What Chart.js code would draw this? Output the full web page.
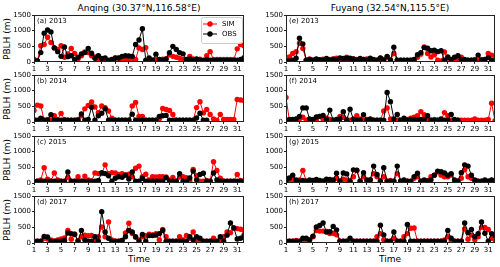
<!DOCTYPE html>
<html><head><meta charset="utf-8">
<script src="https://cdn.jsdelivr.net/npm/chart.js@4"></script>
<style>
body{margin:0;width:500px;height:267px;background:#fff;position:relative;overflow:hidden;font-family:"DejaVu Sans",sans-serif;}
canvas{position:absolute;}
.t{position:absolute;white-space:nowrap;color:#000;font-size:9px;line-height:1;transform:translate(-50%,-50%);}
.r{transform:translate(-50%,-50%) rotate(-90deg);}
</style></head><body>
<div class="t" style="left:139px;top:7.5px">Anqing (30.37°N,116.58°E)</div>
<div class="t" style="left:390px;top:7.5px">Fuyang (32.54°N,115.5°E)</div>
<div class="t r" style="left:7px;top:38.5px">PBLH (m)</div>
<div class="t r" style="left:7px;top:98.5px">PBLH (m)</div>
<div class="t r" style="left:7px;top:159.5px">PBLH (m)</div>
<div class="t r" style="left:7px;top:219.5px">PBLH (m)</div>
<div class="t" style="left:139px;top:259px">Time</div>
<div class="t" style="left:390px;top:259px">Time</div>
<script>
const timeDays = [1,1.5,2,2.5,3,3.5,4,4.5,5,5.5,6,6.5,7,7.5,8,8.5,9,9.5,10,10.5,11,11.5,12,12.5,13,13.5,14,14.5,15,15.5,16,16.5,17,17.5,18,18.5,19,19.5,20,20.5,21,21.5,22,22.5,23,23.5,24,24.5,25,25.5,26,26.5,27,27.5,28,28.5,29,29.5,30,30.5,31,31.5,32];
const xTicks = [1,3,5,7,9,11,13,15,17,19,21,23,25,27,29,31];
const yTicks = [0,500,1000,1500];
const seriesNames = ['SIM','OBS'];
const panelLabels = ['(a) 2013','(b) 2014','(c) 2015','(d) 2017','(e) 2013','(f) 2014','(g) 2015','(h) 2017'];
const N = null;

const anqingObs2013 = [50,30,300,920,1020,960,450,330,180,480, 170,200,80,150,260,300,430,280,120,200, 110,130,60,80,120,130,180,200,190,180, 560,700,1060,60,130,60,250,80,60,100, 300,500,400,300,260,80,100,60,100,60, 50,80,60,50,60,60,50,60,50,50, 60,80,140];
const anqingSim2013 = [90,30,520,560,790,620,450,400,520,150, 260,430,270,100,200,320,300,200,160,60, 80,60,40,70,140,120,80,60,90,60, 80,450,400,460,80,60,80,60,90,100, 230,180,150,120,80,60,180,100,60,90, 60,200,330,80,80,80,80,80,80,80, 420,560,520];
const anqingObs2014 = [70,60,120,60,60,230,60,60,60,60, 60,60,60,60,260,60,80,470,60,200, 280,420,60,60,60,60,60,60,60,250, 60,60,60,60,60,60,60,180,200,210, 60,60,60,60,60,60,60,60,130,280, 60,60,N,N,N,N,N,N,N,N, N,N,N];
const anqingSim2014 = [370,540,510,60,80,60,200,80,270,80, 60,60,60,80,200,420,530,640,480,300, 510,460,350,120,60,60,60,60,60,510, 620,180,180,60,60,60,60,100,430,400, 370,240,60,60,60,60,60,60,460,650, 290,400,240,100,60,240,80,80,80,80, 720,700,690];
const anqingObs2015 = [50,60,60,60,60,60,60,60,60,60, 350,60,60,60,60,60,60,60,60,80, 330,300,230,60,150,200,180,250,130,350, 60,60,150,60,60,60,60,60,60,170, 60,60,60,300,60,60,160,380,100,270, 310,60,60,320,100,60,60,60,60,60, 60,60,60];
const anqingSim2015 = [40,60,100,490,120,60,320,100,60,60, 180,60,60,200,60,220,100,60,320,300, 300,580,300,330,320,270,300,260,280,200, 470,540,200,280,100,200,190,200,200,190, 100,180,60,190,200,170,60,430,230,60, 60,80,60,680,400,150,60,60,60,60, 270,80,60];
const anqingObs2017 = [60,60,60,210,190,60,60,60,60,80, 320,300,270,60,400,100,60,60,200,60, 1000,350,150,60,60,60,80,200,400,350, 200,60,270,60,240,240,250,300,400,60, 60,60,60,60,60,60,200,100,200,150, 60,60,60,60,60,200,60,250,640,480, 130,150,240];
const anqingSim2017 = [60,60,60,150,130,100,60,100,130,160, 400,120,290,80,200,250,230,240,80,200, 510,200,670,100,60,60,80,320,630,300, 180,100,200,230,280,260,300,100,430,200, 60,60,60,200,100,240,150,350,100,60, 60,60,60,150,60,60,200,350,330,480, 460,440,400];

const fuyangObs2013 = [40,30,60,120,760,580,60,80,60,100, 70,60,110,60,90,70,130,110,120,120, 100,60,110,80,60,120,70,60,130,60, 180,60,470,60,60,60,60,60,80,230, 300,460,440,360,380,330,360,60,160,80, 150,200,80,80,60,60,60,220,60,80, 140,50,40];
const fuyangSim2013 = [60,160,270,330,600,430,60,100,60,80, 60,90,60,80,100,120,60,100,150,80, 100,80,60,80,100,60,80,60,120,80, 150,60,270,60,60,60,60,60,60,150, 250,480,270,160,230,60,30,320,120,60, 100,60,150,60,60,60,80,60,80,60, 270,220,180];
const fuyangObs2014 = [60,80,80,100,180,450,450,100,80,160, 180,210,80,380,60,80,100,330,60,410, 80,60,60,230,60,100,60,60,60,60, 940,650,100,240,60,120,60,80,80,60, 80,80,200,60,60,60,100,60,60,240, 80,60,N,N,N,N,N,N,N,N, N,N,N];
const fuyangSim2014 = [780,60,60,80,100,150,60,80,60,60, 180,80,120,80,60,60,180,150,80,60, 100,200,100,60,80,60,60,60,60,350, 450,100,60,60,60,60,80,120,150,200, 330,230,100,60,80,60,60,300,200,60, 60,60,60,60,60,60,100,60,60,60, 80,600,40];
const fuyangObs2015 = [60,160,250,100,60,80,60,100,80,110, 80,60,120,110,100,310,60,320,290,60, 420,410,60,330,100,100,540,270,60,490, 60,60,60,540,60,100,60,60,200,310, 60,100,60,100,250,380,360,320,250,300, 100,60,330,580,540,250,100,60,60,100, 60,100,60];
const fuyangSim2015 = [80,60,100,60,100,400,60,60,60,60, 60,60,60,60,60,150,60,120,100,60, 200,400,60,200,60,100,300,200,60,200, 60,80,60,300,60,60,60,60,150,200, 60,60,80,200,250,350,250,200,200,250, 60,60,150,420,200,150,60,60,60,60, 60,80,60];
const fuyangObs2017 = [60,60,60,60,60,150,150,100,220,510, 560,640,350,360,530,420,60,60,60,150, 60,60,60,60,60,60,60,60,570,260, 60,60,350,60,60,60,590,60,60,60, 60,60,60,60,60,60,60,60,400,150, 60,60,60,640,330,430,200,300,670,310, 60,300,230];
const fuyangSim2017 = [60,60,60,80,60,80,60,100,200,400, 380,380,370,300,310,260,60,60,60,60, 60,60,60,60,60,60,60,200,300,100, 60,60,150,60,60,200,300,470,480,60, 60,60,60,60,60,60,60,100,200,60, 60,60,60,450,120,250,100,200,500,500, 430,150,100];

const FONT = '"DejaVu Sans", sans-serif';
const rowTops = [15, 75, 136, 196];
const panelH = 47;
const panels = [
  {col:0,row:0,sim:anqingSim2013,obs:anqingObs2013,legend:true},
  {col:0,row:1,sim:anqingSim2014,obs:anqingObs2014},
  {col:0,row:2,sim:anqingSim2015,obs:anqingObs2015},
  {col:0,row:3,sim:anqingSim2017,obs:anqingObs2017},
  {col:1,row:0,sim:fuyangSim2013,obs:fuyangObs2013},
  {col:1,row:1,sim:fuyangSim2014,obs:fuyangObs2014},
  {col:1,row:2,sim:fuyangSim2015,obs:fuyangObs2015},
  {col:1,row:3,sim:fuyangSim2017,obs:fuyangObs2017},
];

function framePlugin(label, legend){
  return {
    id:'frame',
    afterDatasetsDraw(chart){
      const ctx = chart.ctx, a = chart.chartArea;
      ctx.save();
      ctx.strokeStyle = '#222'; ctx.lineWidth = 1;
      ctx.strokeRect(Math.round(a.left)+0.5, Math.round(a.top)+0.5, Math.round(a.right-a.left)-1, Math.round(a.bottom-a.top)-1);
      ctx.fillStyle = '#000';
      ctx.font = '7px ' + FONT;
      ctx.textBaseline = 'middle'; ctx.textAlign = 'left';
      ctx.fillText(label, a.left + 3, a.top + 6.5);
      if (legend){
        const x0 = a.right - 43, y0 = a.top + 2, w = 41, h = 26;
        ctx.beginPath();
        if (ctx.roundRect) ctx.roundRect(x0+0.5, y0+0.5, w, h, 2); else ctx.rect(x0+0.5,y0+0.5,w,h);
        ctx.fillStyle = 'rgba(255,255,255,0.85)'; ctx.fill();
        ctx.strokeStyle = '#cccccc'; ctx.stroke();
        const items = [[seriesNames[0],'#ff0000',y0+7],[seriesNames[1],'#000000',y0+17]];
        for (const [t,c,y] of items){
          ctx.strokeStyle = c; ctx.fillStyle = c; ctx.lineWidth = 1;
          ctx.beginPath(); ctx.moveTo(x0+2,y); ctx.lineTo(x0+16,y); ctx.stroke();
          ctx.beginPath(); ctx.arc(x0+9,y,2.7,0,Math.PI*2); ctx.fill();
          ctx.fillStyle = '#000'; ctx.font = '7px ' + FONT;
          ctx.fillText(t, x0+21, y+0.5);
        }
      }
      ctx.restore();
    }
  };
}

panels.forEach((p, idx) => {
  const c = document.createElement('canvas');
  const W = 250, H = 6 + panelH + 14;
  c.width = W; c.height = H;
  c.style.left = (p.col*250) + 'px';
  c.style.top = (rowTops[p.row] - 6) + 'px';
  c.style.width = W + 'px'; c.style.height = H + 'px';
  document.body.appendChild(c);
  const yw = p.col === 0 ? 34 : 36;
  const rp = p.col === 0 ? 6 : 5;
  const mk = (arr, color, name, order) => ({
    label: name,
    data: arr.map((v,i) => ({x: timeDays[i], y: v})),
    borderColor: color, backgroundColor: color,
    borderWidth: 1, pointRadius: 2.7, pointBorderWidth: 0,
    pointBackgroundColor: color, order: order, clip: 0, spanGaps: false, tension: 0
  });
  new Chart(c, {
    type: 'line',
    data: { datasets: [ mk(p.sim, '#ff0000', seriesNames[0], 1), mk(p.obs, '#000000', seriesNames[1], 0) ] },
    options: {
      responsive: false, animation: false, events: [],
      layout: { padding: { top: 6, right: rp, left: 0, bottom: 0 } },
      plugins: { legend: { display: false }, tooltip: { enabled: false }, title: { display: false } },
      scales: {
        x: {
          type: 'linear', min: 1, max: 32,
          afterBuildTicks: s => { s.ticks = xTicks.map(v => ({ value: v })); },
          afterFit: s => { s.height = 14; },
          grid: { display: true, drawOnChartArea: false, tickLength: 2, color: '#222' },
          border: { display: false },
          ticks: { font: { size: 7, family: FONT }, color: '#000', padding: 1, maxRotation: 0, autoSkip: false, callback: v => String(v) }
        },
        y: {
          min: 0, max: 1500,
          afterBuildTicks: s => { s.ticks = yTicks.map(v => ({ value: v })); },
          afterFit: s => { s.width = yw; },
          grid: { display: true, drawOnChartArea: false, tickLength: 2, color: '#222' },
          border: { display: false },
          ticks: { font: { size: 7, family: FONT }, color: '#000', padding: 1, autoSkip: false, callback: v => String(v) }
        }
      }
    },
    plugins: [ framePlugin(panelLabels[idx], !!p.legend) ]
  });
});
</script>
</body></html>
